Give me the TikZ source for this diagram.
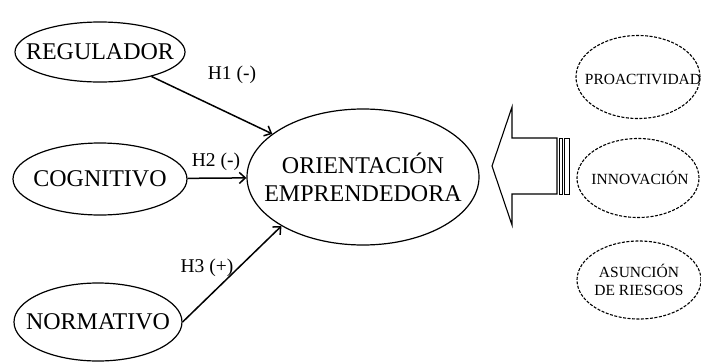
\documentclass[tikz,border=0pt]{standalone}
\usepackage{fontspec}
\setmainfont{Liberation Serif}
\usetikzlibrary{arrows.meta,shapes.geometric}
\tikzset{
  bigtext/.style={align=center, inner sep=0pt, font=\fontsize{24}{28}\selectfont},
  smalltext/.style={align=center, inner sep=0pt, font=\fontsize{15.5}{18.5}\selectfont},
  solidell/.style={draw, ellipse, line width=1.2pt, inner sep=0pt},
  dashell/.style={draw, ellipse, line width=1.1pt, dash pattern=on 3pt off 1.5pt, inner sep=0pt},
  hyp/.style={line width=1.5pt, -{Straight Barb[length=6pt,width=11pt,line width=1.5pt]}},
  hlabel/.style={font=\fontsize{19.5}{22}\selectfont, inner sep=0pt},
  bigarrow/.style={draw, line width=1.1pt, line join=miter}
}
\begin{document}
\begin{tikzpicture}[x=1pt,y=-1pt]
\useasboundingbox (0,0) rectangle (701,362);
% left constructs
\node[solidell, minimum width=170pt, minimum height=60pt,
  label={[bigtext]center:REGULADOR}] (reg) at (100,52) {};
\node[solidell, minimum width=174pt, minimum height=72pt,
  label={[bigtext]center:COGNITIVO}] (cog) at (100,179) {};
\node[solidell, minimum width=168pt, minimum height=78pt,
  label={[bigtext]center:NORMATIVO}] (nor) at (98,322) {};
% central construct
\node[solidell, minimum width=232pt, minimum height=136pt,
  label={[bigtext]center:{ORIENTACIÓN\\EMPRENDEDORA}}] (oe) at (363,177) {};
% hypotheses
\draw[hyp] (reg) -- (oe);
\draw[hyp] (cog) -- (oe);
\draw[hyp] (nor.east) -- (oe.211.7);
\node[hlabel] (h1) at (232,75) {H1 (-)};
\node[hlabel] (h2) at (216,162) {H2 (-)};
\node[hlabel] (h3) at (207,268) {H3 (+)};
% big hollow arrow with striped tail
\draw[bigarrow] (492,166) -- (512,107) -- (512,138) -- (557,138) -- (557,194)
  -- (512,194) -- (512,225) -- cycle;
\draw[line width=0.9pt] (559,138) rectangle (562,194);
\draw[line width=0.9pt] (564,138) rectangle (569,194);
% dimensions
\node[dashell, minimum width=124pt, minimum height=83pt,
  label={[smalltext,xshift=5pt,yshift=-2pt]center:PROACTIVIDAD}] (pro) at (638,77) {};
\node[dashell, minimum width=122pt, minimum height=79pt,
  label={[smalltext,xshift=2pt]center:INNOVACIÓN}] (inn) at (638,178) {};
\node[dashell, minimum width=124pt, minimum height=78pt,
  label={[smalltext]center:{ASUNCIÓN\\DE RIESGOS}}] (asu) at (639,280) {};
\end{tikzpicture}
\end{document}
